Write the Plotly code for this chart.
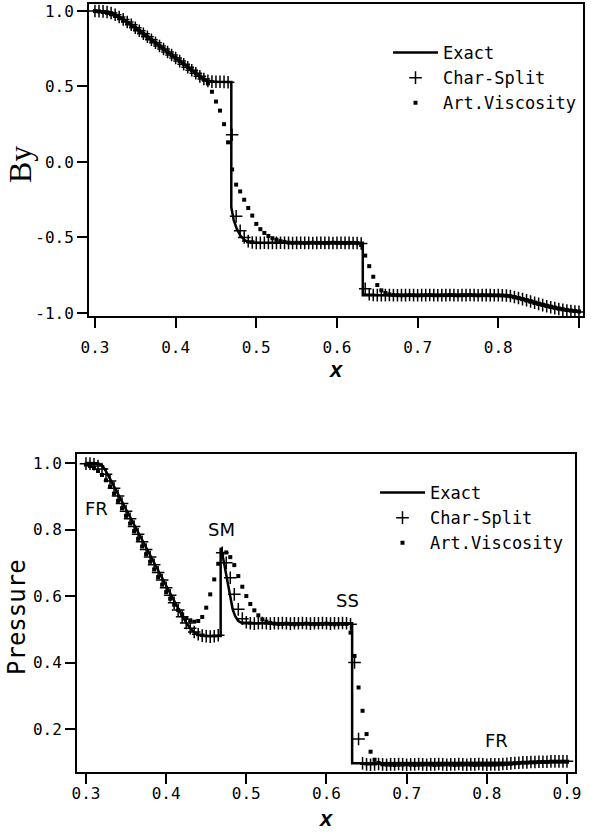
import numpy as np
import plotly.graph_objects as go

# ---------------- data ----------------
# uniform mesh of the numerical solutions
x_grid = np.round(np.arange(0.300, 0.9001, 0.005), 3)

x_tickvals = [0.3, 0.4, 0.5, 0.6, 0.7, 0.8, 0.9]
x_ticktext = ["0.3", "0.4", "0.5", "0.6", "0.7", "0.8", "0.9"]
by_tickvals = [-1.0, -0.5, 0.0, 0.5, 1.0]
by_ticktext = ["-1.0", "-0.5", "0.0", "0.5", "1.0"]
p_tickvals = [0.2, 0.4, 0.6, 0.8, 1.0]
p_ticktext = ["0.2", "0.4", "0.6", "0.8", "1.0"]

series_names = ["Exact", "Char-Split", "Art.Viscosity"]

# ---- By : exact solution ----
by_exact_x = [0.300, 0.305, 0.310, 0.315, 0.320, 0.325, 0.330, 0.335, 0.340, 0.345,
              0.350, 0.355, 0.360, 0.365, 0.370, 0.375, 0.380, 0.385, 0.390, 0.395,
              0.400, 0.405, 0.410, 0.415, 0.420, 0.425, 0.430, 0.435, 0.440, 0.445,
              0.450, 0.469, 0.469, 0.472, 0.476, 0.480, 0.485, 0.490, 0.495, 0.632,
              0.632, 0.810, 0.815, 0.820, 0.825, 0.830, 0.835, 0.840, 0.845, 0.850,
              0.855, 0.860, 0.865, 0.870, 0.875, 0.880, 0.885, 0.890, 0.895, 0.900]
by_exact_y = [1.000, 1.000, 0.999, 0.996, 0.990, 0.978, 0.963, 0.946, 0.929, 0.911,
              0.891, 0.871, 0.850, 0.830, 0.810, 0.790, 0.769, 0.749, 0.729, 0.709,
              0.689, 0.668, 0.648, 0.628, 0.608, 0.588, 0.568, 0.549, 0.536, 0.531,
              0.530, 0.530, -0.300, -0.385, -0.445, -0.485, -0.515, -0.530, -0.535, -0.535,
              -0.882, -0.882, -0.886, -0.892, -0.899, -0.906, -0.914, -0.922, -0.930, -0.938,
              -0.946, -0.953, -0.960, -0.966, -0.972, -0.977, -0.982, -0.986, -0.989, -0.992]

# ---- By : Char-Split (on x_grid) ----
by_cs = [
    1.000, 0.999, 0.997, 0.993, 0.986, 0.975, 0.960, 0.944, 0.927, 0.909,
    0.889, 0.869, 0.849, 0.829, 0.809, 0.789, 0.768, 0.748, 0.728, 0.708,
    0.688, 0.668, 0.647, 0.627, 0.607, 0.587, 0.567, 0.549, 0.537, 0.532,
    0.531, 0.531, 0.530, 0.528, 0.180, -0.360, -0.455, -0.500, -0.524, -0.533,
    -0.536,
    -0.536, -0.535, -0.536, -0.537, -0.536, -0.535, -0.536, -0.536, -0.537, -0.536,
    -0.535, -0.536, -0.536, -0.537, -0.536, -0.535, -0.536, -0.536, -0.537, -0.536,
    -0.535, -0.536, -0.536, -0.537, -0.537,
    -0.540, -0.840, -0.876, -0.881,
    -0.882, -0.883, -0.882, -0.881, -0.882, -0.883, -0.882, -0.882, -0.881, -0.882,
    -0.883, -0.882, -0.882, -0.881, -0.882, -0.883, -0.882, -0.882, -0.881, -0.882,
    -0.883, -0.882, -0.882, -0.881, -0.882, -0.883, -0.882, -0.882, -0.882, -0.883,
    -0.882, -0.883,
    -0.884, -0.888, -0.894, -0.901, -0.908, -0.916, -0.924, -0.932, -0.940, -0.948,
    -0.955, -0.962, -0.968, -0.974, -0.979, -0.984, -0.988, -0.991, -0.993]

# ---- By : Art.Viscosity (on x_grid) ----
by_av = [
    0.999, 0.997, 0.993, 0.987, 0.978, 0.967, 0.953, 0.938, 0.922, 0.905,
    0.887, 0.868, 0.848, 0.828, 0.808, 0.788, 0.768, 0.748, 0.728, 0.708,
    0.688, 0.668, 0.648, 0.628, 0.608, 0.588, 0.567, 0.546, 0.520, 0.465,
    0.400, 0.340, 0.250, 0.130, -0.050, -0.150, -0.195, -0.250, -0.305, -0.355,
    -0.410,
    -0.445, -0.470, -0.490, -0.505, -0.515, -0.524, -0.530, -0.534, -0.536, -0.535,
    -0.536, -0.537, -0.536, -0.535, -0.536, -0.536, -0.537, -0.536, -0.535, -0.536,
    -0.536, -0.537, -0.536, -0.536, -0.537,
    -0.550, -0.620, -0.690, -0.760,
    -0.815, -0.850, -0.868, -0.877, -0.881, -0.882, -0.883, -0.882, -0.881, -0.882,
    -0.883, -0.882, -0.882, -0.881, -0.882, -0.883, -0.882, -0.882, -0.881, -0.882,
    -0.883, -0.882, -0.882, -0.881, -0.882, -0.883, -0.882, -0.882, -0.882, -0.883,
    -0.883, -0.884,
    -0.886, -0.890, -0.896, -0.902, -0.909, -0.916, -0.923, -0.931, -0.938, -0.945,
    -0.952, -0.958, -0.964, -0.970, -0.975, -0.980, -0.984, -0.987, -0.990]

# ---- Pressure : exact solution ----
p_exact_x = [0.300, 0.305, 0.310, 0.315, 0.320, 0.325, 0.330, 0.335, 0.340, 0.345,
             0.350, 0.355, 0.360, 0.365, 0.370, 0.375, 0.380, 0.385, 0.390, 0.395,
             0.400, 0.405, 0.410, 0.415, 0.420, 0.425, 0.430, 0.435, 0.440, 0.445,
             0.450, 0.468, 0.468, 0.471, 0.474, 0.477, 0.480, 0.483, 0.486, 0.490,
             0.495, 0.632, 0.632, 0.820, 0.830, 0.840, 0.850, 0.860, 0.900]
p_exact_y = [1.000, 1.000, 1.000, 0.999, 0.993, 0.975, 0.952, 0.929, 0.906, 0.883,
             0.860, 0.837, 0.814, 0.791, 0.768, 0.745, 0.722, 0.699, 0.676, 0.653,
             0.630, 0.607, 0.584, 0.561, 0.540, 0.520, 0.503, 0.491, 0.484, 0.481,
             0.480, 0.480, 0.745, 0.715, 0.675, 0.630, 0.590, 0.560, 0.540, 0.525,
             0.518, 0.518, 0.097, 0.097, 0.098, 0.099, 0.100, 0.101, 0.102]

# ---- Pressure : Char-Split (on x_grid) ----
p_cs = [
    0.998, 0.998, 0.996, 0.991, 0.982, 0.966, 0.946, 0.924, 0.901, 0.878,
    0.855, 0.832, 0.809, 0.786, 0.763, 0.740, 0.717, 0.694, 0.671, 0.648,
    0.625, 0.602, 0.580, 0.558, 0.538, 0.519, 0.503, 0.492, 0.485, 0.481,
    0.479, 0.478, 0.479, 0.482, 0.730, 0.700, 0.655, 0.605, 0.560, 0.532,
    0.521,
    0.518, 0.517, 0.518, 0.519, 0.518, 0.517, 0.518, 0.518, 0.519, 0.518,
    0.517, 0.518, 0.518, 0.519, 0.518, 0.517, 0.518, 0.518, 0.519, 0.518,
    0.517, 0.518, 0.518, 0.519, 0.518,
    0.515, 0.400, 0.170, 0.097,
    0.094, 0.093, 0.094, 0.095, 0.094, 0.093, 0.094, 0.094, 0.095, 0.094,
    0.093, 0.094, 0.094, 0.095, 0.094, 0.093, 0.094, 0.094, 0.095, 0.094,
    0.093, 0.094, 0.094, 0.095, 0.094, 0.093, 0.094, 0.094, 0.095, 0.094,
    0.093, 0.094,
    0.094, 0.094, 0.095, 0.096, 0.097, 0.098, 0.099, 0.100, 0.100, 0.101,
    0.101, 0.102, 0.102, 0.102, 0.103, 0.103, 0.103, 0.103, 0.103]

# ---- Pressure : Art.Viscosity (on x_grid) ----
p_av = [
    0.995, 0.991, 0.985, 0.976, 0.964, 0.948, 0.929, 0.908, 0.886, 0.864,
    0.841, 0.818, 0.795, 0.772, 0.749, 0.726, 0.703, 0.680, 0.657, 0.634,
    0.612, 0.592, 0.574, 0.558, 0.545, 0.534, 0.527, 0.523, 0.525, 0.537,
    0.565, 0.605, 0.650, 0.697, 0.727, 0.731, 0.717, 0.693, 0.660, 0.628,
    0.600,
    0.576, 0.557, 0.542, 0.530, 0.523, 0.519, 0.517, 0.516, 0.516, 0.517,
    0.516, 0.515, 0.516, 0.516, 0.517, 0.516, 0.515, 0.516, 0.516, 0.517,
    0.516, 0.515, 0.516, 0.516, 0.516,
    0.490, 0.420, 0.325, 0.255,
    0.185, 0.132, 0.108, 0.098, 0.094, 0.093, 0.093, 0.092, 0.093, 0.093,
    0.094, 0.093, 0.092, 0.093, 0.093, 0.094, 0.093, 0.092, 0.093, 0.093,
    0.094, 0.093, 0.092, 0.093, 0.093, 0.094, 0.093, 0.092, 0.093, 0.093,
    0.093, 0.093,
    0.093, 0.094, 0.094, 0.095, 0.096, 0.097, 0.098, 0.099, 0.099, 0.100,
    0.100, 0.101, 0.101, 0.101, 0.102, 0.102, 0.102, 0.102, 0.102]

for arr in (by_cs, by_av, p_cs, p_av):
    assert len(arr) == len(x_grid), len(arr)
assert len(by_exact_x) == len(by_exact_y)
assert len(p_exact_x) == len(p_exact_y)

wave_labels = ["FR", "SM", "SS", "FR"]
wave_label_x = [0.3137, 0.4696, 0.6267, 0.8125]
wave_label_y = [0.862, 0.801, 0.588, 0.167]

# ---------------- figure ----------------
W, H = 591, 834
BLACK = "black"
MONO = "DejaVu Sans Mono"

fig = go.Figure()


def add_set(ex_x, ex_y, cs, av, xa, ya, leg):
    fig.add_trace(go.Scatter(x=ex_x, y=ex_y, mode="lines", name=series_names[0],
                             line=dict(color=BLACK, width=2.5), xaxis=xa, yaxis=ya,
                             legend=leg))
    fig.add_trace(go.Scatter(x=x_grid, y=cs, mode="markers", name=series_names[1],
                             marker=dict(symbol="cross-thin", size=9, color=BLACK,
                                         line=dict(color=BLACK, width=1.5)),
                             xaxis=xa, yaxis=ya, legend=leg))
    fig.add_trace(go.Scatter(x=x_grid, y=av, mode="markers", name=series_names[2],
                             marker=dict(symbol="square", size=4, color=BLACK,
                                         line=dict(width=0)),
                             xaxis=xa, yaxis=ya, legend=leg))


add_set(by_exact_x, by_exact_y, by_cs, by_av, "x", "y", "legend")
add_set(p_exact_x, p_exact_y, p_cs, p_av, "x2", "y2", "legend2")

axis_common = dict(showline=True, linewidth=2, linecolor=BLACK, mirror=True,
                   ticks="outside", ticklen=10, tickwidth=2, tickcolor=BLACK,
                   showgrid=False, zeroline=False, automargin=False,
                   tickfont=dict(family=MONO, size=16, color=BLACK))

legend_common = dict(xanchor="left", yanchor="top", itemwidth=45,
                     font=dict(family=MONO, size=17, color=BLACK),
                     bgcolor="rgba(0,0,0,0)", borderwidth=0, tracegroupgap=0)

fig.update_layout(
    width=W, height=H,
    margin=dict(l=0, r=0, t=0, b=0),
    paper_bgcolor="white", plot_bgcolor="white",
    xaxis=dict(domain=[89 / W, 583 / W], range=[0.2926, 0.905], anchor="y",
               tickvals=x_tickvals, ticktext=x_ticktext, ticklabelstandoff=6,
               **axis_common),
    yaxis=dict(domain=[1 - 316 / H, 1 - 4 / H], range=[-1.02, 1.046], anchor="x",
               tickvals=by_tickvals, ticktext=by_ticktext, **axis_common),
    xaxis2=dict(domain=[77 / W, 575 / W], range=[0.2888, 0.91], anchor="y2",
                tickvals=x_tickvals, ticktext=x_ticktext, ticklabelstandoff=-4,
                **axis_common),
    yaxis2=dict(domain=[1 - 772 / H, 1 - 454 / H], range=[0.071, 1.027], anchor="x2",
                tickvals=p_tickvals, ticktext=p_ticktext, **axis_common),
    legend=dict(x=388 / W, y=1 - 35 / H, **legend_common),
    legend2=dict(x=375 / W, y=1 - 475 / H, **legend_common),
    showlegend=True,
)

annotations = [
    dict(text="By", x=20 / W, y=1 - 165 / H, xref="paper", yref="paper",
         textangle=-90, showarrow=False, xanchor="center", yanchor="middle",
         font=dict(family="Liberation Serif", size=32, color=BLACK)),
    dict(text="Pressure", x=17 / W, y=1 - 617 / H, xref="paper", yref="paper",
         textangle=-90, showarrow=False, xanchor="center", yanchor="middle",
         font=dict(family=MONO, size=24, color=BLACK)),
    dict(text="<b><i>x</i></b>", x=336 / W, y=1 - 369 / H, xref="paper", yref="paper",
         showarrow=False, xanchor="center", yanchor="middle",
         font=dict(family="Liberation Sans", size=22, color=BLACK)),
    dict(text="<b><i>x</i></b>", x=326 / W, y=1 - 818 / H, xref="paper", yref="paper",
         showarrow=False, xanchor="center", yanchor="middle",
         font=dict(family="Liberation Sans", size=22, color=BLACK)),
]
for t, xv, yv in zip(wave_labels, wave_label_x, wave_label_y):
    annotations.append(dict(text=t, x=xv, y=yv, xref="x2", yref="y2", showarrow=False,
                            xanchor="center", yanchor="middle",
                            font=dict(family="DejaVu Sans", size=18, color=BLACK)))
fig.update_layout(annotations=annotations)

# remove the browser's default 8px body margin so the figure starts at (0, 0)
fig.write_html("out.html", config={"displayModeBar": False},
               post_script="document.body.style.margin='0px';")
